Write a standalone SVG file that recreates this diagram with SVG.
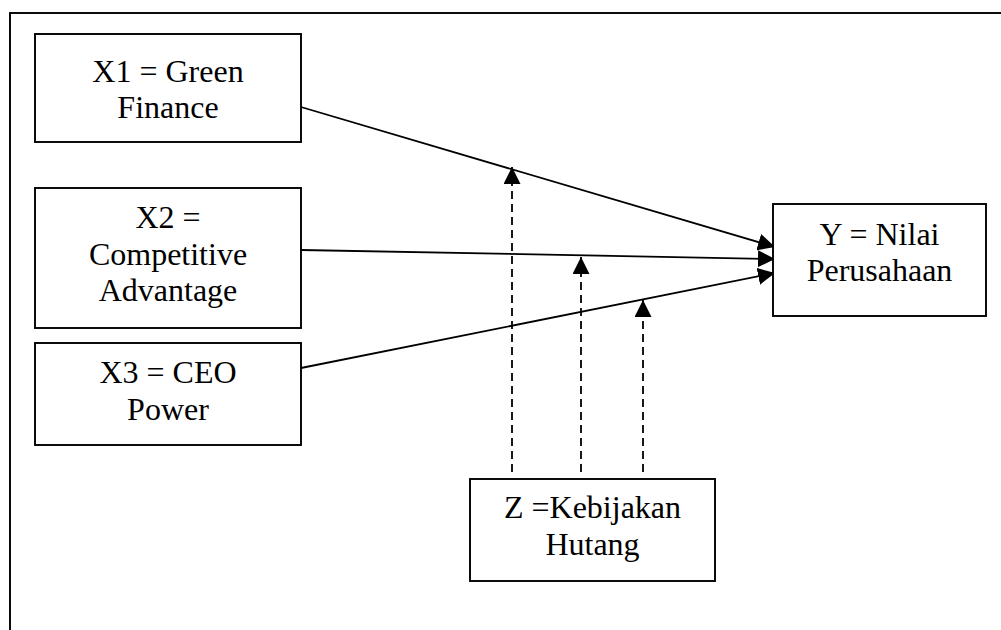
<svg xmlns="http://www.w3.org/2000/svg" width="1001" height="630" viewBox="0 0 1001 630" font-family="'Liberation Serif', serif">
<style>
.box{fill:#fff;stroke:#000;stroke-width:1.9}
.t{font-size:32px;fill:#000;text-anchor:middle}
.ln{stroke:#000;stroke-width:1.8;fill:none}
.dash{stroke-dasharray:8 5}
</style>
<defs>
<marker id="ah" markerUnits="userSpaceOnUse" markerWidth="18" markerHeight="17" refX="17" refY="8.5" orient="auto" viewBox="0 0 18 17">
<path d="M0,0 L17,8.5 L0,17 z" fill="#000"/>
</marker>
</defs>
<rect x="10" y="13" width="1000" height="700" fill="#fff" stroke="#000" stroke-width="1.9"/>
<g id="connectors">
<line class="ln" x1="301" y1="107" x2="775" y2="247" marker-end="url(#ah)"/>
<line class="ln" x1="301" y1="250" x2="775" y2="259" marker-end="url(#ah)"/>
<line class="ln" x1="301" y1="368" x2="775" y2="273" marker-end="url(#ah)"/>
<line class="ln dash" x1="512" y1="472" x2="512" y2="167" marker-end="url(#ah)"/>
<line class="ln dash" x1="581" y1="472" x2="581" y2="257" marker-end="url(#ah)"/>
<line class="ln dash" x1="643" y1="472" x2="643" y2="300" marker-end="url(#ah)"/>
</g>
<g id="x1">
<rect class="box" x="35" y="34" width="266" height="108"/>
<text class="t" x="168" y="82">X1 = Green</text>
<text class="t" x="168" y="118">Finance</text>
</g>
<g id="x2">
<rect class="box" x="35" y="188" width="266" height="140"/>
<text class="t" x="168" y="228">X2 =</text>
<text class="t" x="168" y="265">Competitive</text>
<text class="t" x="168" y="301">Advantage</text>
</g>
<g id="x3">
<rect class="box" x="35" y="343" width="266" height="102"/>
<text class="t" x="168" y="383">X3 = CEO</text>
<text class="t" x="168" y="420">Power</text>
</g>
<g id="y">
<rect class="box" x="773" y="204" width="213" height="112"/>
<text class="t" x="879.5" y="245">Y = Nilai</text>
<text class="t" x="879.5" y="281">Perusahaan</text>
</g>
<g id="z">
<rect class="box" x="470" y="479" width="245" height="102"/>
<text class="t" x="592.5" y="518">Z =Kebijakan</text>
<text class="t" x="592.5" y="555">Hutang</text>
</g>
</svg>
